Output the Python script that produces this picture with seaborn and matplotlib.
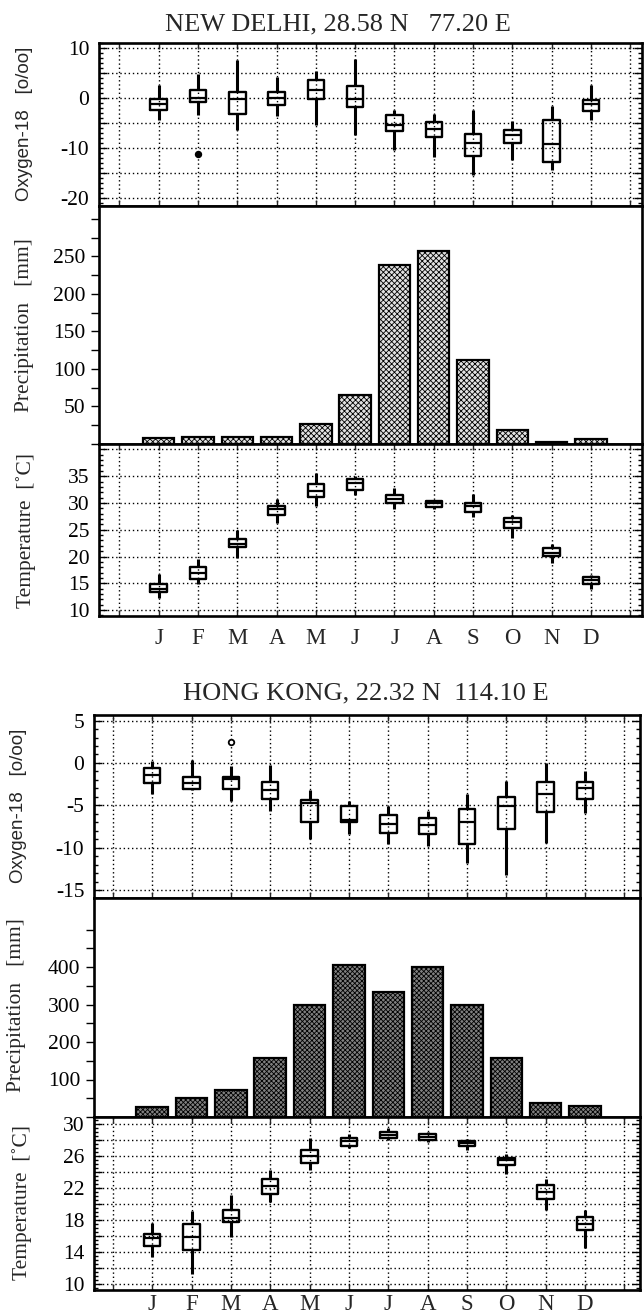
import numpy as np
import pandas as pd
import matplotlib
matplotlib.use("Agg")
import matplotlib.pyplot as plt
import seaborn as sns
from matplotlib.ticker import FixedLocator, MultipleLocator, FuncFormatter, NullFormatter

# ---------------- data ----------------
months = ["J", "F", "M", "A", "M", "J", "J", "A", "S", "O", "N", "D"]
month_pos = [1, 2, 3, 4, 5, 6, 7, 8, 9, 10, 11, 12]

# New Delhi, oxygen-18 [o/oo]: whisker low, Q1, median, Q3, whisker high
nd_o18_lo = [-4.3, -3.4, -6.4, -3.6, -5.4, -7.4, -10.4, -11.7, -15.4, -12.4, -14.4, -4.4]
nd_o18_q1 = [-2.3, -0.7, -3.1, -1.4, -0.2, -1.7, -6.5, -7.7, -11.6, -8.9, -12.7, -2.6]
nd_o18_med = [-1.2, 0.1, -0.2, 0.1, 1.7, -0.2, -5.4, -6.1, -8.9, -7.3, -9.1, -1.2]
nd_o18_q3 = [-0.2, 1.7, 1.3, 1.3, 3.6, 2.4, -3.3, -4.7, -7.1, -6.3, -4.3, -0.4]
nd_o18_hi = [2.6, 4.9, 7.7, 4.3, 5.4, 7.9, -2.4, -3.1, -2.4, -4.5, -1.6, 2.6]
nd_o18_out_month = [2]
nd_o18_out_val = [-11.1]

# New Delhi, precipitation [mm]
nd_precip = [8, 9, 9, 9, 26, 65, 239, 257, 112, 18, 3, 7]

# New Delhi, temperature [C]
nd_t_lo = [12.3, 14.8, 19.8, 26.3, 29.4, 31.4, 28.8, 28.8, 27.3, 23.4, 18.8, 14.0]
nd_t_q1 = [13.3, 15.8, 21.7, 27.7, 31.1, 32.5, 30.0, 29.3, 28.3, 25.4, 20.1, 14.8]
nd_t_med = [14.0, 17.0, 22.4, 28.9, 32.2, 33.7, 30.8, 29.9, 29.4, 26.5, 20.7, 15.6]
nd_t_q3 = [14.8, 18.1, 23.2, 29.4, 33.6, 34.5, 31.4, 30.3, 30.0, 27.1, 21.5, 16.2]
nd_t_hi = [16.7, 19.6, 24.9, 30.7, 35.5, 35.0, 32.7, 30.5, 31.6, 27.7, 22.4, 16.5]

# Hong Kong, oxygen-18 [o/oo]
hk_o18_lo = [-3.6, -3.2, -4.5, -5.7, -9.0, -8.4, -9.5, -9.8, -11.8, -13.2, -9.4, -5.9]
hk_o18_q1 = [-2.4, -3.1, -3.1, -4.2, -7.0, -7.0, -8.3, -8.4, -9.5, -7.8, -5.8, -4.2]
hk_o18_med = [-1.4, -2.3, -1.9, -3.2, -4.7, -6.7, -7.2, -7.3, -7.0, -5.1, -3.6, -3.0]
hk_o18_q3 = [-0.6, -1.6, -1.7, -2.2, -4.4, -5.1, -6.1, -6.5, -5.4, -4.0, -2.2, -2.2]
hk_o18_hi = [0.2, 0.35, -0.4, -0.2, -3.2, -4.5, -5.1, -5.7, -3.6, -2.1, 0.0, -1.0]
hk_o18_out_month = [3]
hk_o18_out_val = [2.5]

# Hong Kong, precipitation [mm]
hk_precip = [28, 50, 72, 158, 300, 405, 334, 399, 300, 158, 38, 29]

# Hong Kong, temperature [C]
hk_t_lo = [13.4, 11.3, 15.9, 20.3, 24.3, 27.0, 28.0, 27.8, 26.75, 23.75, 19.25, 14.5]
hk_t_q1 = [14.75, 14.3, 17.7, 21.3, 25.1, 27.3, 28.2, 28.0, 27.3, 24.9, 20.6, 16.75]
hk_t_med = [15.8, 15.9, 18.3, 22.25, 26.0, 27.9, 28.6, 28.4, 27.6, 25.5, 21.5, 17.5]
hk_t_q3 = [16.25, 17.5, 19.25, 23.1, 26.75, 28.3, 29.0, 28.7, 27.9, 25.7, 22.4, 18.4]
hk_t_hi = [17.6, 19.1, 21.1, 24.3, 28.2, 28.8, 29.5, 29.0, 28.1, 26.25, 23.1, 19.3]

titles = ["NEW DELHI, 28.58 N   77.20 E", "HONG KONG, 22.32 N  114.10 E"]

# ---------------- style ----------------
sns.set_theme(style="white")
plt.rcParams["font.family"] = ["Liberation Serif", "DejaVu Serif"]
plt.rcParams["axes.unicode_minus"] = False
plt.rcParams["hatch.linewidth"] = 0.6

W, H = 644, 1314
fig = plt.figure(figsize=(W / 100, H / 100), dpi=100)
fig.patch.set_facecolor("white")


def rect(left, right, top, bottom):
    return [left / W, 1 - bottom / H, (right - left) / W, (bottom - top) / H]


def box_frame(lo, q1, med, q3, hi):
    rows = []
    for p, vals in zip(month_pos, zip(lo, q1, med, q3, hi)):
        for v in vals:
            rows.append((p, v))
    return pd.DataFrame(rows, columns=["pos", "val"])


GRID = dict(linestyle=(0, (1, 2)), color="black", linewidth=1.0)
TICKFS = 15.5


def style_common(ax, xlim):
    ax.set_xlim(*xlim)
    for s in ax.spines.values():
        s.set_linewidth(1.9)
        s.set_color("black")
        s.set_visible(True)
    ax.set_xlabel("")
    ax.set_ylabel("")
    ax.set_facecolor("white")


def draw_box(ax, lo, q1, med, q3, hi, xlim, ylim, major, minor, labelfn, xlabels=False,
             out=None, out_face="white", xpad=6):
    df = box_frame(lo, q1, med, q3, hi)
    sns.boxplot(data=df, x="pos", y="val", native_scale=True, whis=np.inf, width=0.42,
                fill=False, color="black", linewidth=1.7, showfliers=False,
                whiskerprops={"linewidth": 2.2}, capprops={"linewidth": 0},
                medianprops={"linewidth": 1.6}, ax=ax)
    if out is not None:
        sns.scatterplot(x=out[0], y=out[1], ax=ax, marker="o", s=16, facecolor=out_face,
                        edgecolor="black", linewidth=1.3, legend=False, zorder=5)
    style_common(ax, xlim)
    ax.set_ylim(*ylim)
    ax.yaxis.set_major_locator(MultipleLocator(major))
    ax.yaxis.set_minor_locator(MultipleLocator(minor))
    ax.yaxis.set_major_formatter(FuncFormatter(labelfn))
    ax.xaxis.set_major_locator(FixedLocator(list(range(0, 14))))
    ax.xaxis.set_minor_locator(FixedLocator([]))
    if xlabels:
        labs = [""] + months + [""]
        ax.set_xticklabels(labs)
    else:
        ax.xaxis.set_major_formatter(NullFormatter())
    ax.grid(True, which="major", axis="both", **GRID)
    ax.tick_params(axis="y", which="both", direction="in", left=True, right=True,
                   labelsize=TICKFS, pad=7, width=1.0, colors="black")
    ax.tick_params(axis="y", which="major", length=6)
    ax.tick_params(axis="y", which="minor", length=3)
    ax.tick_params(axis="x", which="major", direction="in", top=True, bottom=True,
                   length=4, width=1.0, labelsize=TICKFS + 1, pad=xpad)
    ax.set_axisbelow(True)


def draw_bar(ax, vals, xlim, ylim, major, minor, face, hatch):
    sns.barplot(x=month_pos, y=vals, native_scale=True, width=0.8, color=face,
                saturation=1, edgecolor="black", linewidth=1.6, errorbar=None, ax=ax)
    for p in ax.patches:
        p.set_hatch(hatch)
    style_common(ax, xlim)
    ax.set_ylim(*ylim)
    ax.yaxis.set_major_locator(FixedLocator(major))
    ax.yaxis.set_minor_locator(FixedLocator(minor))
    ax.xaxis.set_major_locator(FixedLocator([]))
    ax.grid(False)
    ax.tick_params(axis="y", which="both", direction="out", left=True, right=False,
                   length=6, width=1.0, labelsize=TICKFS, pad=4, colors="black")


def fmt_every(step, lo, hi):
    def f(v, _):
        if lo - 1e-6 <= v <= hi + 1e-6 and abs((v - lo) / step - round((v - lo) / step)) < 1e-6:
            return f"{v:g}"
        return ""
    return f


# ---------------- New Delhi ----------------
nd_xlim = (-0.52, 13.3)
ax1 = fig.add_axes(rect(99, 642, 43, 206))
draw_box(ax1, nd_o18_lo, nd_o18_q1, nd_o18_med, nd_o18_q3, nd_o18_hi, nd_xlim, (-21.6, 11.0),
         5, 1, fmt_every(10, -20, 10), out=(nd_o18_out_month, nd_o18_out_val), out_face="black")
ax2 = fig.add_axes(rect(99, 642, 206, 444))
draw_bar(ax2, nd_precip, nd_xlim, (0, 317), [50, 100, 150, 200, 250], list(range(0, 325, 25)),
         "#e2e2e2", "xxxxxx")
ax3 = fig.add_axes(rect(99, 642, 444, 616))
draw_box(ax3, nd_t_lo, nd_t_q1, nd_t_med, nd_t_q3, nd_t_hi, nd_xlim, (8.9, 41.0),
         5, 1, fmt_every(5, 10, 35), xlabels=True, xpad=9)

# ---------------- Hong Kong ----------------
hk_xlim = (-0.48, 13.4)
ax4 = fig.add_axes(rect(94, 640, 715, 898))
draw_box(ax4, hk_o18_lo, hk_o18_q1, hk_o18_med, hk_o18_q3, hk_o18_hi, hk_xlim, (-15.9, 5.65),
         5, 1, fmt_every(5, -15, 5), out=(hk_o18_out_month, hk_o18_out_val))
ax5 = fig.add_axes(rect(94, 640, 898, 1117))
draw_bar(ax5, hk_precip, hk_xlim, (0, 584), [100, 200, 300, 400], list(range(0, 550, 50)),
         "#808080", "xxxxxxx")
ax6 = fig.add_axes(rect(94, 640, 1117, 1290))
draw_box(ax6, hk_t_lo, hk_t_q1, hk_t_med, hk_t_q3, hk_t_hi, hk_xlim, (9.25, 30.875),
         2, 0.5, fmt_every(4, 10, 30), xlabels=True, xpad=3)

# ---------------- titles and axis labels ----------------
fig.text(338 / W, 1 - 24 / H, titles[0], ha="center", va="center", fontsize=19)
fig.text(366 / W, 1 - 693 / H, titles[1], ha="center", va="center", fontsize=19)

SANS = ["Liberation Sans", "DejaVu Sans"]
ylabels = [
    ("Oxygen-18   [o/oo]", 25, 124, SANS, 13.5),
    ("Precipitation   [mm]", 25, 325, None, 15.5),
    ("Temperature  [\u02daC]", 26, 530, None, 15.5),
    ("Oxygen-18   [o/oo]", 19, 806, SANS, 13.5),
    ("Precipitation   [mm]", 17, 1005, None, 15.5),
    ("Temperature  [\u02daC]", 22, 1203, None, 15.5),
]
for txt, x, y, fam, fs in ylabels:
    kw = {"family": fam} if fam else {}
    fig.text(x / W, 1 - y / H, txt, rotation=90, ha="center", va="center", fontsize=fs, **kw)

fig.savefig("out.png", dpi=100, facecolor="white")
